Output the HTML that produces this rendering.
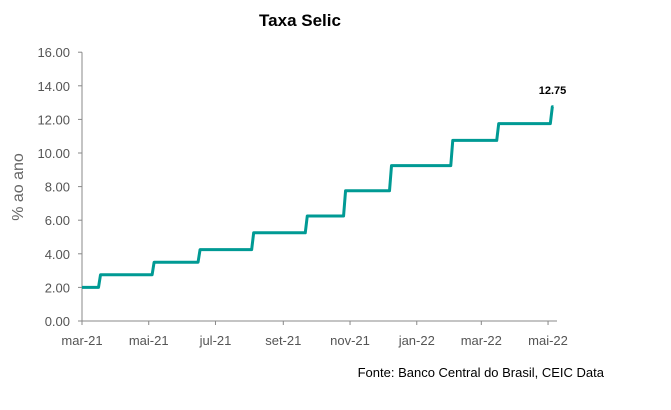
<!DOCTYPE html>
<html><head><meta charset="utf-8"><style>
body{margin:0;background:#fff;}
svg{display:block;font-family:"Liberation Sans",sans-serif;}
</style></head><body>
<svg width="671" height="410">
<text x="300" y="26" text-anchor="middle" font-size="17" font-weight="bold" fill="#000">Taxa Selic</text>
<text transform="translate(23,187) rotate(-90)" text-anchor="middle" font-size="16" fill="#666">% ao ano</text>
<g id="axes"></g>
<path id="line" fill="none" stroke="#009a94" stroke-width="3" stroke-linejoin="round"></path>
<text id="lastLabel" font-size="11" font-weight="bold" text-anchor="middle" fill="#000"></text>
<text x="604" y="377" text-anchor="end" font-size="13" fill="#000">Fonte: Banco Central do Brasil, CEIC Data</text>
</svg>
<script>
const changeDates=["2021-03-01","2021-03-17","2021-05-05","2021-06-16","2021-08-04","2021-09-22","2021-10-27","2021-12-08","2022-02-02","2022-03-16","2022-05-04"];
const rates=[2.00,2.75,3.50,4.25,5.25,6.25,7.75,9.25,10.75,11.75,12.75];
const endDate="2022-05-06";
const yTicks=[0,2,4,6,8,10,12,14,16];
const xTickLabels=["mar-21","mai-21","jul-21","set-21","nov-21","jan-22","mar-22","mai-22"];
const xTickDates=["2021-03-01","2021-05-01","2021-07-01","2021-09-01","2021-11-01","2022-01-01","2022-03-01","2022-05-01"];

const NS="http://www.w3.org/2000/svg";
const d0=Date.parse("2021-03-01");
const day=d=>(Date.parse(d)-d0)/86400000;
const X=d=>82+day(d)*1.094;
const Y=v=>321-v*16.8;
const axes=document.getElementById('axes');
function el(t,a){const e=document.createElementNS(NS,t);for(const k in a)e.setAttribute(k,a[k]);axes.appendChild(e);return e;}
let e=el('line',{x1:82,y1:Y(0),x2:557,y2:Y(0),stroke:'#888','stroke-width':1});


e=el('line',{x1:82,y1:Y(16),x2:82,y2:Y(0),stroke:'#888','stroke-width':1});


yTicks.forEach(v=>{
  const t=el('text',{x:70,y:Y(v)+5,'text-anchor':'end','font-size':13,fill:'#555'});
  t.textContent=v.toFixed(2);
  
  
  const l=el('line',{x1:78,x2:82,y1:Y(v),y2:Y(v),stroke:'#888'});
  
  
});
xTickDates.forEach((d,i)=>{
  const l=el('line',{x1:X(d),x2:X(d),y1:Y(0),y2:Y(0)+4,stroke:'#888'});
  
  
  const t=el('text',{x:X(d),y:345,'text-anchor':'middle','font-size':13,fill:'#555'});
  t.textContent=xTickLabels[i];
  
  
});
let p="M"+X(changeDates[0])+","+Y(rates[0]);
for(let i=1;i<rates.length;i++){
  const x=X(changeDates[i]);
  p+=" L"+(x-1)+","+Y(rates[i-1])+" L"+(x+1)+","+Y(rates[i]);
}
p+=" L"+X(endDate)+","+Y(rates[rates.length-1]);
document.getElementById('line').setAttribute('d',p);
const lab=document.getElementById('lastLabel');
lab.setAttribute('x',X(endDate)-1);
lab.setAttribute('y',Y(rates[rates.length-1])-13);
lab.textContent=rates[rates.length-1].toFixed(2);
</script>
</body></html>
